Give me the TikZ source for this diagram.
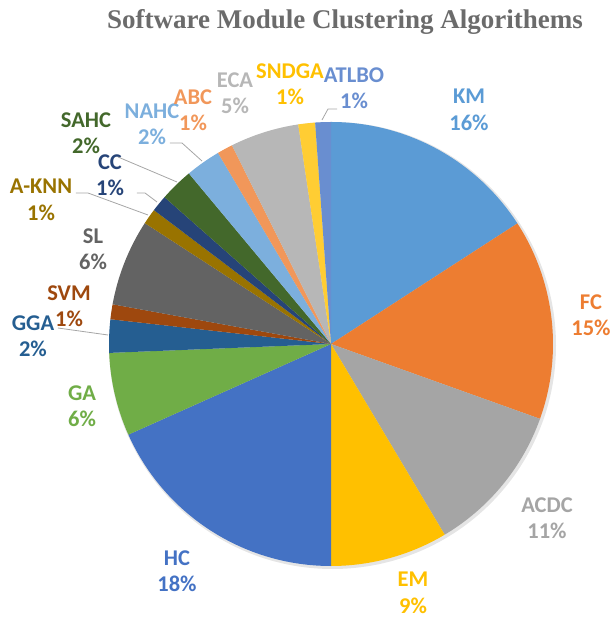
\documentclass[tikz,border=0pt]{standalone}
\usepackage{fontspec}
\setmainfont{Carlito}
\newfontfamily\titlefont{Liberation Serif}
\usepackage{tikz}

\definecolor{kmc}{HTML}{5B9BD5}
\definecolor{fcc}{HTML}{ED7D31}
\definecolor{acdcc}{HTML}{A5A5A5}
\definecolor{emc}{HTML}{FFC000}
\definecolor{hcc}{HTML}{4472C4}
\definecolor{gac}{HTML}{70AD47}
\definecolor{ggac}{HTML}{255E91}
\definecolor{svmc}{HTML}{9E480E}
\definecolor{slc}{HTML}{636363}
\definecolor{aknnc}{HTML}{997300}
\definecolor{ccc}{HTML}{264478}
\definecolor{sahcc}{HTML}{43682B}
\definecolor{nahcc}{HTML}{7CAFDD}
\definecolor{abcc}{HTML}{F1975A}
\definecolor{ecac}{HTML}{B7B7B7}
\definecolor{sndgac}{HTML}{FFCD33}
\definecolor{atlboc}{HTML}{698ED0}
\definecolor{leadgray}{HTML}{A6A6A6}
\definecolor{titlegray}{HTML}{6B6B6B}

\newcommand{\lblfont}{\bfseries\fontsize{22.5}{26.5}\selectfont}

\begin{document}
\begin{tikzpicture}[x=1pt,y=1pt,
	lbl/.style={font=\lblfont,align=center,inner sep=0pt},
	leader/.style={draw=leadgray,line width=0.8pt}]
	\useasboundingbox (-331,-276) rectangle (280,344);
	% title
	\node[font=\titlefont\bfseries\fontsize{27}{30}\selectfont,text=titlegray] (title) at (14,322) {Software Module Clustering Algorithems};
	% shadow
	\fill[black!10] (1.5,-1.5) circle (223.5);
	% slices
	\fill[kmc] (0,0) -- (90:222) arc[start angle=90,end angle=32.9,radius=222] -- cycle;
	\fill[fcc] (0,0) -- (32.9:222) arc[start angle=32.9,end angle=-19.7,radius=222] -- cycle;
	\fill[acdcc] (0,0) -- (-19.7:222) arc[start angle=-19.7,end angle=-59.2,radius=222] -- cycle;
	\fill[emc] (0,0) -- (-59.2:222) arc[start angle=-59.2,end angle=-90,radius=222] -- cycle;
	\fill[hcc] (0,0) -- (-90:222) arc[start angle=-90,end angle=-155.9,radius=222] -- cycle;
	\fill[gac] (0,0) -- (-155.9:222) arc[start angle=-155.9,end angle=-177.7,radius=222] -- cycle;
	\fill[ggac] (0,0) -- (-177.7:222) arc[start angle=-177.7,end angle=-186.4,radius=222] -- cycle;
	\fill[svmc] (0,0) -- (-186.4:222) arc[start angle=-186.4,end angle=-190.3,radius=222] -- cycle;
	\fill[slc] (0,0) -- (-190.3:222) arc[start angle=-190.3,end angle=-213,radius=222] -- cycle;
	\fill[aknnc] (0,0) -- (-213:222) arc[start angle=-213,end angle=-217.1,radius=222] -- cycle;
	\fill[ccc] (0,0) -- (-217.1:222) arc[start angle=-217.1,end angle=-221.4,radius=222] -- cycle;
	\fill[sahcc] (0,0) -- (-221.4:222) arc[start angle=-221.4,end angle=-230.2,radius=222] -- cycle;
	\fill[nahcc] (0,0) -- (-230.2:222) arc[start angle=-230.2,end angle=-239.4,radius=222] -- cycle;
	\fill[abcc] (0,0) -- (-239.4:222) arc[start angle=-239.4,end angle=-243.5,radius=222] -- cycle;
	\fill[ecac] (0,0) -- (-243.5:222) arc[start angle=-243.5,end angle=-261.5,radius=222] -- cycle;
	\fill[sndgac] (0,0) -- (-261.5:222) arc[start angle=-261.5,end angle=-265.9,radius=222] -- cycle;
	\fill[atlboc] (0,0) -- (-265.9:222) arc[start angle=-265.9,end angle=-270,radius=222] -- cycle;
	% labels
	\node[lbl,text=kmc] (km) at (138,234) {KM\\16\%};
	\node[lbl,text=fcc] (fc) at (260,29) {FC\\15\%};
	\node[lbl,text=acdcc] (acdc) at (216,-174) {ACDC\\11\%};
	\node[lbl,text=emc] (em) at (82,-249) {EM\\9\%};
	\node[lbl,text=hcc] (hc) at (-154,-227) {HC\\18\%};
	\node[lbl,text=gac] (ga) at (-249,-62) {GA\\6\%};
	\node[lbl,text=ggac] (gga) at (-298,8) {GGA\\2\%};
	\node[lbl,text=svmc] (svm) at (-262,38) {SVM\\1\%};
	\node[lbl,text=slc] (sl) at (-238,95) {SL\\6\%};
	\node[lbl,text=aknnc] (aknn) at (-290,144) {A-KNN\\1\%};
	\node[lbl,text=ccc] (cc) at (-221,169) {CC\\1\%};
	\node[lbl,text=sahcc] (sahc) at (-245,211) {SAHC\\2\%};
	\node[lbl,text=nahcc] (nahc) at (-179,220) {NAHC\\2\%};
	\node[lbl,text=abcc] (abc) at (-138,234) {ABC\\1\%};
	\node[lbl,text=ecac] (eca) at (-96,251) {ECA\\5\%};
	\node[lbl,text=emc] (sndga) at (-41,260) {SNDGA\\1\%};
	\node[lbl,text=atlboc] (atlbo) at (23,256) {ATLBO\\1\%};
	% leader ends on the slices
	\coordinate (gga-e) at (-223,9);
	\coordinate (aknn-e) at (-183,129);
	\coordinate (cc-e) at (-174,142);
	\coordinate (sahc-e) at (-154,162);
	\coordinate (nahc-e) at (-129,183);
	\coordinate (atlbo-e) at (-9,224);
	% leader lines
	\draw[leader] ([shift={(25,8)}]gga.center) -- (gga-e);
	\draw[leader] ([shift={(35,7)}]aknn.center) -- ++(12,0) -- (aknn-e);
	\draw[leader] ([shift={(27,-18)}]cc.center) -- ++(8,0) -- (cc-e);
	\draw[leader] ([shift={(32,-24)}]sahc.center) -- (sahc-e);
	\draw[leader] ([shift={(18,-19)}]nahc.center) -- ++(12,0) -- (nahc-e);
	\draw[leader] ([shift={(-17,-21)}]atlbo.center) -- ++(-9,0) -- (atlbo-e);
\end{tikzpicture}
\end{document}
